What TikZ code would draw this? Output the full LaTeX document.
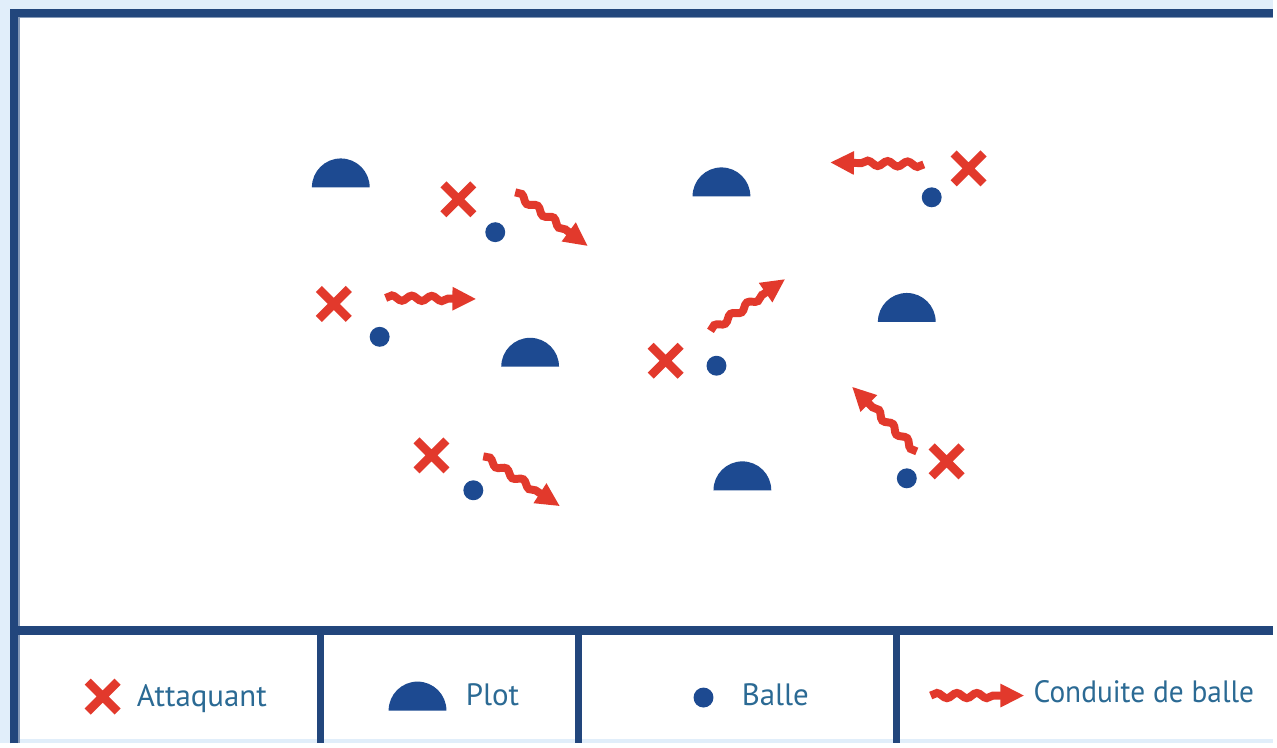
\documentclass[tikz,border=0pt]{standalone}
\usepackage{fontspec}
\setmainfont{PT Sans}
\usetikzlibrary{arrows.meta,shapes.misc,decorations.pathmorphing}
\definecolor{cadre}{HTML}{22467C}
\definecolor{fond}{HTML}{E1EEFA}
\definecolor{rouge}{HTML}{E2392C}
\definecolor{bleu}{HTML}{1D4A91}
\definecolor{texte}{HTML}{2B6A94}

\begin{document}
\begin{tikzpicture}[x=0.5pt,y=-0.5pt,
  attaquant/.style={draw=rouge,cross out,line width=4.3pt,minimum size=15pt,inner sep=0pt,outer sep=0pt},
  balle/.style={circle,fill=bleu,minimum size=10pt,inner sep=0pt},
  plotc/.style={fill=bleu},
  conduite/.style={draw=rouge,line width=4pt,decorate,
    decoration={snake,segment length=10pt,amplitude=1.3pt,post length=12pt},
    -{Triangle[length=12pt,width=11pt]}},
  legende/.style={anchor=base west,text=texte,font=\fontsize{15.5}{18}\selectfont,inner sep=0pt}]
  % Cadre et legende
  \fill[fond] (0,0) rectangle (1277,746);
  \fill[white] (14,13) rectangle (1277,742);
  \draw[cadre!55,line width=1.5pt] (19,746) -- (19,17) -- (1277,17);
  \draw[cadre,line width=4pt] (14,746) -- (14,13) -- (1277,13);
  \draw[cadre,line width=4.5pt] (14,633) -- (1277,633);
  \foreach \x in {322,581,900}
    \draw[cadre,line width=3.5pt] (\x,633) -- (\x,746);

  % Plots
  \foreach \n/\x/\y in {1/342/188, 2/724/197, 3/910/323, 4/532/368, 5/745/492} {
    \coordinate (p\n) at (\x,\y);
    \fill[plotc] (p\n) ++(-14.5pt,0) arc[start angle=180,end angle=0,radius=14.5pt] -- cycle;
  }

  % Attaquants et balles
  \foreach \n/\x/\y in {1/460/200, 2/972/169, 3/335/305, 4/668/362, 5/433/457, 6/950/463}
    \node[attaquant] (at\n) at (\x,\y) {};
  \foreach \n/\x/\y in {1/497/233, 2/935/198, 3/381/338, 4/719/367, 5/475/492, 6/910/480}
    \node[balle] (b\n) at (\x,\y) {};

  % Conduites de balle
  \foreach \n/\xa/\ya/\xb/\yb in {1/517/193/590/247, 2/927/165/833/163, 3/387/299/478/300,
      4/713/332/788/280, 5/485/458/562/508, 6/920/453/855/388} {
    \coordinate (c\n) at (\xa,\ya);
    \coordinate (d\n) at (\xb,\yb);
    \draw[conduite] (c\n) -- (d\n);
  }

  % Legende
  \node[attaquant] (leg-at) at (103,699) {};
  \node[legende] (t-at) at (137,709) {Attaquant};
  \coordinate (leg-p) at (419,713);
  \fill[plotc] (leg-p) ++(-14.5pt,0) arc[start angle=180,end angle=0,radius=14.5pt] -- cycle;
  \node[legende] (t-p) at (467,708) {Plot};
  \node[balle] (leg-b) at (706,700) {};
  \node[legende] (t-b) at (744,708) {Balle};
  \coordinate (leg-c) at (934,698);
  \coordinate (leg-d) at (1028,698);
  \draw[conduite] (leg-c) -- (leg-d);
  \node[legende,xscale=0.95] (t-c) at (1037,705) {Conduite de balle};
\end{tikzpicture}
\end{document}
